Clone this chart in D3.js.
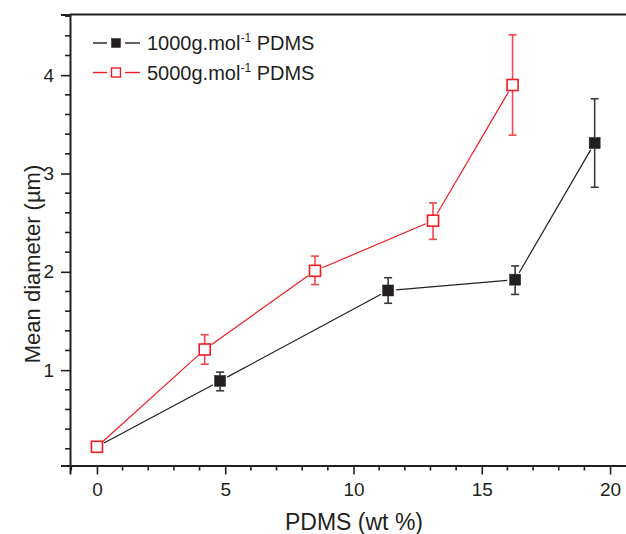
<!DOCTYPE html>
<html>
<head>
<meta charset="utf-8">
<script src="https://cdn.jsdelivr.net/npm/d3@7"></script>
<style>
  body { margin: 0; background: #fff; }
  text { font-family: "Liberation Sans", Arial, sans-serif; fill: #231f20; }
</style>
</head>
<body>
<div id="viz"></div>
<script>
// PDMS content (wt %) and mean diameter (um) with error bars
const pdms1000 = [0, 4.8, 11.35, 16.3, 19.4];
const diam1000 = [0.22, 0.89, 1.81, 1.92, 3.31];
const err1000Low = [0.22, 0.79, 1.68, 1.77, 2.86];
const err1000High = [0.22, 0.98, 1.94, 2.06, 3.76];

const pdms5000 = [0, 4.2, 8.5, 13.1, 16.2];
const diam5000 = [0.22, 1.21, 2.01, 2.52, 3.90];
const err5000Low = [0.22, 1.06, 1.87, 2.33, 3.39];
const err5000High = [0.22, 1.36, 2.16, 2.70, 4.41];

const xTicks = [0, 5, 10, 15, 20];
const yTicks = [1, 2, 3, 4];
const seriesNames = ["1000g.mol", "5000g.mol"];

const width = 626;
const height = 534;
const ink = "#231f20";
const red = "#ed1c24";

const svg = d3.select("#viz").append("svg")
  .attr("width", width)
  .attr("height", height);

const x = d3.scaleLinear().domain([-1.05, 21.05]).range([70, 637]);
const y = d3.scaleLinear().domain([0.03, 4.617]).range([465.5, 14.5]);

// frame: top line
svg.append("line")
  .attr("x1", 70).attr("x2", width)
  .attr("y1", y(4.617)).attr("y2", y(4.617))
  .attr("stroke", ink).attr("stroke-width", 2);

const xAxis = svg.append("g")
  .attr("transform", `translate(0,${y(0.03)})`)
  .call(d3.axisBottom(x).tickValues(xTicks).tickSize(9).tickPadding(8).tickFormat(d3.format("d")));
xAxis.append("g").selectAll("line")
  .data(d3.range(-1, 22).filter(d => d % 5 !== 0))
  .enter().append("line")
  .attr("x1", d => x(d)).attr("x2", d => x(d))
  .attr("y1", 0).attr("y2", 5)
  .attr("stroke", ink).attr("stroke-width", 1.6);

const yAxis = svg.append("g")
  .attr("transform", `translate(${x(-1.05)},0)`)
  .call(d3.axisLeft(y).tickValues(yTicks).tickSize(9).tickPadding(7).tickFormat(d3.format("d")));
yAxis.append("g").selectAll("line")
  .data(d3.range(0.2, 4.7, 0.2).filter(d => Math.abs(d - Math.round(d)) > 0.01))
  .enter().append("line")
  .attr("x1", 0).attr("x2", -5)
  .attr("y1", d => y(d)).attr("y2", d => y(d))
  .attr("stroke", ink).attr("stroke-width", 1.6);

[xAxis, yAxis].forEach(ax => {
  ax.select(".domain").attr("stroke", ink).attr("stroke-width", 2);
  ax.selectAll(".tick line").attr("stroke", ink).attr("stroke-width", 1.6);
  ax.selectAll(".tick text")
    .attr("font-size", 19)
    .style("font-family", "Liberation Sans, Arial, sans-serif")
    .attr("fill", ink);
});

svg.append("text")
  .attr("x", 354).attr("y", 530)
  .attr("text-anchor", "middle")
  .attr("font-size", 23)
  .text("PDMS (wt %)");

svg.append("text")
  .attr("transform", "translate(40,264) rotate(-90)")
  .attr("text-anchor", "middle")
  .attr("font-size", 22)
  .text("Mean diameter (\u00b5m)");

const series = [
  { xs: pdms1000, ys: diam1000, lo: err1000Low, hi: err1000High, color: ink, barColor: "#3a3a3a", filled: true },
  { xs: pdms5000, ys: diam5000, lo: err5000Low, hi: err5000High, color: red, barColor: "#f0484f", filled: false }
];

const gap = 8;
const half = 5.5;

series.forEach(s => {
  const pts = s.xs.map((v, i) => [x(v), y(s.ys[i])]);
  const g = svg.append("g");

  // connecting segments stopping short of the markers
  d3.pairs(pts).forEach(([a, b]) => {
    const dx = b[0] - a[0], dy = b[1] - a[1];
    const len = Math.hypot(dx, dy);
    if (len < 2 * gap) return;
    const ux = dx / len, uy = dy / len;
    g.append("line")
      .attr("x1", a[0] + ux * gap).attr("y1", a[1] + uy * gap)
      .attr("x2", b[0] - ux * gap).attr("y2", b[1] - uy * gap)
      .attr("stroke", s.color).attr("stroke-width", 1.2);
  });

  // error bars
  s.xs.forEach((v, i) => {
    if (s.hi[i] - s.lo[i] < 0.01) return;
    const cx = x(v);
    [[s.hi[i], y(s.ys[i]) - half], [s.lo[i], y(s.ys[i]) + half]].forEach(([e, edge]) => {
      g.append("line")
        .attr("x1", cx).attr("x2", cx)
        .attr("y1", y(e)).attr("y2", edge)
        .attr("stroke", s.barColor).attr("stroke-width", 1.6);
      g.append("line")
        .attr("x1", cx - 4).attr("x2", cx + 4)
        .attr("y1", y(e)).attr("y2", y(e))
        .attr("stroke", s.barColor).attr("stroke-width", 1.6);
    });
  });

  g.selectAll("rect")
    .data(pts)
    .enter().append("rect")
    .attr("x", d => d[0] - half)
    .attr("y", d => d[1] - half)
    .attr("width", half * 2)
    .attr("height", half * 2)
    .attr("fill", s.filled ? s.color : "#fff")
    .attr("stroke", s.color)
    .attr("stroke-width", s.filled ? 0.5 : 1.6);
});

// legend
const legend = svg.append("g");
series.forEach((s, i) => {
  const ly = 43 + i * 29.5;
  legend.append("line")
    .attr("x1", 93).attr("x2", 107).attr("y1", ly).attr("y2", ly)
    .attr("stroke", s.color).attr("stroke-width", 1.4);
  legend.append("line")
    .attr("x1", 125).attr("x2", 140).attr("y1", ly).attr("y2", ly)
    .attr("stroke", s.color).attr("stroke-width", 1.4);
  legend.append("rect")
    .attr("x", 116 - 4.5).attr("y", ly - 4.5)
    .attr("width", 9).attr("height", 9)
    .attr("fill", s.filled ? s.color : "#fff")
    .attr("stroke", s.color)
    .attr("stroke-width", s.filled ? 0.5 : 1.4);
  const t = legend.append("text")
    .attr("x", 147).attr("y", ly + 7)
    .attr("font-size", 20);
  t.append("tspan").text(seriesNames[i]);
  t.append("tspan").attr("font-size", 12).attr("dy", -8).text("-1");
  t.append("tspan").attr("dy", 8).text(" PDMS");
});
</script>
</body>
</html>
